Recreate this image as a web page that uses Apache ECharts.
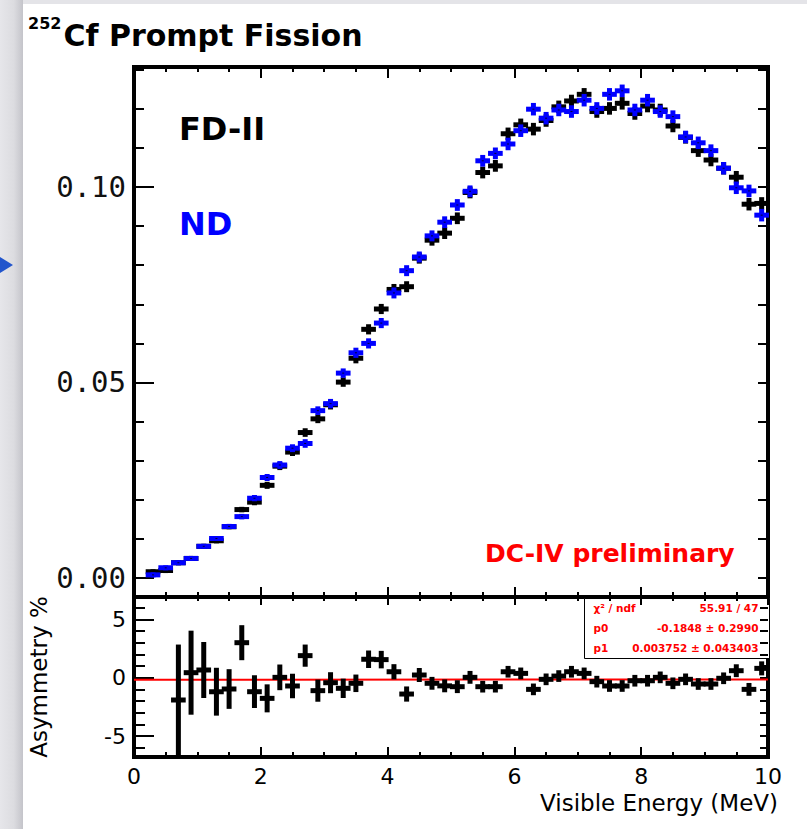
<!DOCTYPE html>
<html>
<head>
<meta charset="utf-8">
<script src="https://cdn.jsdelivr.net/npm/echarts@6/dist/echarts.min.js"></script>
<style>
html,body{margin:0;padding:0;background:#e4e4e8;}
#chart{width:807px;height:829px;}
</style>
</head>
<body>
<div id="chart"></div>
<script>
// ---------------- data ----------------
const energies = [0.3,0.5,0.7,0.9,1.1,1.3,1.5,1.7,1.9,2.1,2.3,2.5,2.7,2.9,3.1,3.3,3.5,3.7,3.9,4.1,4.3,4.5,4.7,4.9,
  5.1,5.3,5.5,5.7,5.9,6.1,6.3,6.5,6.7,6.9,7.1,7.3,7.5,7.7,7.9,8.1,8.3,8.5,8.7,8.9,9.1,9.3,9.5,9.7,9.9];
const fdValues = [0.0016,0.0019,0.0039,0.0050,0.0081,0.0095,0.0131,0.0175,0.0194,0.0237,0.0286,0.0322,0.0372,0.0407,0.0443,0.0501,0.0562,0.0636,0.0688,0.0738,0.0745,0.0818,0.0864,0.0882,
  0.0920,0.0986,0.1037,0.1054,0.1136,0.1159,0.1148,0.1170,0.1205,0.1220,0.1237,0.1193,0.1201,0.1214,0.1188,0.1207,0.1197,0.1156,0.1127,0.1093,0.1069,0.1048,0.1025,0.0956,0.0958];
const ndValues = [0.0008,0.0026,0.0039,0.0050,0.0081,0.0101,0.0132,0.0157,0.0204,0.0257,0.0289,0.0332,0.0344,0.0428,0.0446,0.0524,0.0576,0.0600,0.0652,0.0729,0.0786,0.0821,0.0875,0.0910,
  0.0954,0.0989,0.1067,0.1086,0.1110,0.1144,0.1199,0.1176,0.1197,0.1193,0.1222,0.1201,0.1237,0.1246,0.1197,0.1222,0.1193,0.1180,0.1128,0.1113,0.1093,0.1048,0.0998,0.0990,0.0928];
const topErrors = [0.0003,0.0003,0.0003,0.0004,0.0004,0.0005,0.0006,0.0007,0.0008,0.0009,0.0010,0.0010,0.0011,0.0011,0.0012,0.0012,0.0013,0.0013,0.0013,0.0014,0.0014,0.0014,0.0014,0.0015,
  0.0015,0.0015,0.0015,0.0015,0.0016,0.0016,0.0016,0.0016,0.0016,0.0016,0.0016,0.0016,0.0016,0.0016,0.0016,0.0016,0.0016,0.0016,0.0016,0.0016,0.0016,0.0016,0.0016,0.0016,0.0016];

const asymEnergies = [0.7,0.9,1.1,1.3,1.5,1.7,1.9,2.1,2.3,2.5,2.7,2.9,3.1,3.3,3.5,3.7,3.9,4.1,4.3,4.5,4.7,4.9,
  5.1,5.3,5.5,5.7,5.9,6.1,6.3,6.5,6.7,6.9,7.1,7.3,7.5,7.7,7.9,8.1,8.3,8.5,8.7,8.9,9.1,9.3,9.5,9.7,9.9];
const asymValues = [-1.91,0.43,0.66,-1.2,-0.97,3.0,-1.2,-1.77,0.03,-0.71,1.89,-1.11,-0.43,-0.91,-0.48,1.58,1.55,0.51,-1.4,0.23,-0.48,-0.7,
  -0.77,0.03,-0.77,-0.77,0.51,0.37,-1.0,-0.14,0.14,0.51,0.37,-0.34,-0.71,-0.71,-0.26,-0.26,0.03,-0.48,-0.14,-0.54,-0.54,-0.05,0.6,-1.0,0.8];
const asymErrors = [4.75,3.6,2.4,2.05,1.7,1.5,1.4,1.2,1.1,1.05,0.95,0.95,0.9,0.83,0.75,0.75,0.75,0.65,0.65,0.6,0.55,0.55,
  0.55,0.55,0.5,0.5,0.5,0.5,0.5,0.5,0.5,0.5,0.5,0.5,0.5,0.5,0.5,0.5,0.5,0.5,0.5,0.5,0.5,0.5,0.55,0.55,0.6];

const fitP0 = -0.1848, fitP1 = 0.003752;
const fitStats = [["χ² / ndf","55.91 / 47"],["p0","-0.1848 ± 0.2990"],["p1","0.003752 ± 0.043403"]];

const xMajorTicks = [0,2,4,6,8,10];
const xTickLabels = ["0","2","4","6","8","10"];
const xMinorTicks = [0.5,1,1.5,2.5,3,3.5,4.5,5,5.5,6.5,7,7.5,8.5,9,9.5];
const topYTicks = [0,0.05,0.10];
const topYLabels = ["0.00","0.05","0.10"];
const topYMinor = [0.01,0.02,0.03,0.04,0.06,0.07,0.08,0.09,0.11,0.12,0.13];
const topYAll = [0,0.01,0.02,0.03,0.04,0.05,0.06,0.07,0.08,0.09,0.10,0.11,0.12,0.13];
const asymTicks = [-5,0,5];
const asymLabels = ["-5","0","5"];
const asymMinor = [-6,-4,-3,-2,-1,1,2,3,4,6];
const asymAll = [-6,-5,-4,-3,-2,-1,0,1,2,3,4,5,6];

// ---------------- chart ----------------
const chart = echarts.init(document.getElementById('chart'), null, {renderer:'svg'});
const FONT = 'DejaVu Sans';
const halfBin = 0.1;

function crossRenderer(color, hThick, vWidth, dotColor){
  return function(params, api){
    const e = api.value(0), v = api.value(1), err = api.value(2);
    const pL = api.coord([e - halfBin, v]);
    const pR = api.coord([e + halfBin, v]);
    const pT = api.coord([e, v + err]);
    const pB = api.coord([e, v - err]);
    const h = Math.max(pB[1] - pT[1], hThick);
    const children = [
      {type:'rect', shape:{x:pL[0]-1, y:pL[1]-hThick/2, width:pR[0]-pL[0]+2, height:hThick}, style:{fill:color}},
      {type:'rect', shape:{x:pT[0]-vWidth/2, y:(pT[1]+pB[1])/2 - h/2, width:vWidth, height:h}, style:{fill:color}}
    ];
    if (dotColor) children.push({type:'rect', shape:{x:pL[0]+(pR[0]-pL[0])/2-1, y:pL[1]-0.5, width:2, height:1}, style:{fill:dotColor}});
    return {type:'group', children};
  };
}

function tickAxis(base, vals, len, extra){
  return Object.assign({
    type:'value', axisLine:{show:false, onZero:false}, splitLine:{show:false},
    axisLabel:{show:false},
    axisTick:{show:true, inside:true, length:len, customValues:vals, lineStyle:{color:'#000', width:2}}
  }, base, extra||{});
}

const xr = {min:0, max:10};
const yTop = {min:-0.00486, max:0.13069};
const yBot = {min:-6.795, max:6.915};

const option = {
  backgroundColor:'#e4e4e8',
  animation:false,
  title:{
    left:28, top:15, padding:0,
    text:'{sup|252}{main|Cf Prompt Fission}',
    textStyle:{rich:{
      sup:{fontFamily:FONT, fontWeight:'bold', fontSize:16, color:'#000', lineHeight:18, verticalAlign:'top', padding:[0,2,0,0]},
      main:{fontFamily:FONT, fontWeight:'bold', fontSize:30, color:'#000', lineHeight:40}
    }}
  },
  grid:[
    {left:134, top:67, width:634, height:530, show:true, borderColor:'#000', borderWidth:4, backgroundColor:'#fff'},
    {left:134, top:597, width:634, height:160, show:true, borderColor:'#000', borderWidth:4, backgroundColor:'#fff'}
  ],
  xAxis:[
    tickAxis(Object.assign({gridIndex:0, position:'bottom'}, xr), xMajorTicks, 10),
    tickAxis(Object.assign({gridIndex:0, position:'bottom'}, xr), xMinorTicks, 5),
    tickAxis(Object.assign({gridIndex:0, position:'top'}, xr), xMajorTicks, 11),
    tickAxis(Object.assign({gridIndex:0, position:'top'}, xr), xMinorTicks, 5),
    tickAxis(Object.assign({gridIndex:1, position:'bottom'}, xr), xMajorTicks, 10, {
      axisLabel:{show:true, customValues:xMajorTicks, margin:8, fontFamily:FONT, fontSize:22, color:'#000',
        formatter:(v)=>xTickLabels[xMajorTicks.findIndex(t=>Math.abs(t-v)<1e-9)]},
      name:'Visible Energy (MeV)', nameLocation:'end', nameGap:10,
      nameTextStyle:{fontFamily:FONT, fontSize:23, color:'#000', align:'right', verticalAlign:'top', padding:[34,0,0,0]}
    }),
    tickAxis(Object.assign({gridIndex:1, position:'bottom'}, xr), xMinorTicks, 5),
    tickAxis(Object.assign({gridIndex:1, position:'top'}, xr), xMajorTicks, 8),
    tickAxis(Object.assign({gridIndex:1, position:'top'}, xr), xMinorTicks, 4)
  ],
  yAxis:[
    tickAxis(Object.assign({gridIndex:0, position:'left'}, yTop), topYTicks, 20, {
      axisLabel:{show:true, customValues:topYTicks, margin:8, fontFamily:'DejaVu Sans Mono', fontSize:29, color:'#111',
        formatter:(v)=>topYLabels[topYTicks.findIndex(t=>Math.abs(t-v)<1e-9)]}
    }),
    tickAxis(Object.assign({gridIndex:0, position:'left'}, yTop), topYMinor, 10),
    tickAxis(Object.assign({gridIndex:0, position:'right'}, yTop), topYAll, 10),
    tickAxis(Object.assign({gridIndex:1, position:'left'}, yBot), asymTicks, 20, {
      axisLabel:{show:true, customValues:asymTicks, margin:8, fontFamily:FONT, fontSize:22, color:'#000',
        formatter:(v)=>asymLabels[asymTicks.findIndex(t=>Math.abs(t-v)<1e-9)]},
      name:'Asymmetry %', nameLocation:'middle', nameGap:84, nameRotate:90,
      nameTextStyle:{fontFamily:FONT, fontSize:23, color:'#000'}
    }),
    tickAxis(Object.assign({gridIndex:1, position:'left'}, yBot), asymMinor, 11),
    tickAxis(Object.assign({gridIndex:1, position:'right'}, yBot), asymAll, 8)
  ],
  series:[
    {type:'custom', name:'FD-II', xAxisIndex:0, yAxisIndex:0, coordinateSystem:'cartesian2d',
      renderItem:crossRenderer('#000', 5, 5, null),
      encode:{x:0, y:1},
      data:energies.map((e,i)=>[e, fdValues[i], topErrors[i]])},
    {type:'custom', name:'ND', xAxisIndex:0, yAxisIndex:0, coordinateSystem:'cartesian2d',
      renderItem:crossRenderer('#0000ff', 5, 5, '#000033'),
      encode:{x:0, y:1},
      data:energies.map((e,i)=>[e, ndValues[i], topErrors[i]])},
    {type:'line', name:'fit', xAxisIndex:4, yAxisIndex:3, symbol:'none', silent:true,
      lineStyle:{color:'#ff0000', width:2},
      data:[[0, fitP0], [10, fitP0 + 10*fitP1]], z:3},
    {type:'custom', name:'Asymmetry', xAxisIndex:4, yAxisIndex:3, coordinateSystem:'cartesian2d',
      renderItem:crossRenderer('#000', 5, 5, null),
      encode:{x:0, y:1},
      data:asymEnergies.map((e,i)=>[e, asymValues[i], asymErrors[i]]), z:4}
  ],
  graphic:[
    {type:'rect', z:-10, shape:{x:23, y:4, width:784, height:825}, style:{fill:'#ffffff'}},
    {type:'rect', z:-10, shape:{x:0, y:0, width:23, height:829},
      style:{fill:new echarts.graphic.LinearGradient(0,0,1,0,[{offset:0,color:'#e6e6ea'},{offset:0.6,color:'#dcdce0'},{offset:1,color:'#c4c4ca'}])}},
    {type:'polygon', z:-5, shape:{points:[[0,257],[13,265],[0,273]]}, style:{fill:'#2255cc'}},
    {type:'text', left:179, top:113, style:{text:'FD-II', fontFamily:FONT, fontWeight:'bold', fontSize:32, fill:'#000'}},
    {type:'text', left:179, top:208, style:{text:'ND', fontFamily:FONT, fontWeight:'bold', fontSize:32, fill:'#0000ff'}},
    {type:'text', left:485, top:541, style:{text:'DC-IV preliminary', fontFamily:FONT, fontWeight:'bold', fontSize:25, fill:'#ff0000'}},
    {type:'group', left:584, top:598, children:[
      {type:'rect', shape:{x:0, y:0, width:185, height:60}, style:{fill:'#fff', stroke:'#000', lineWidth:1}},
      ...fitStats.map((row,i)=>({type:'text', x:9, y:9+i*20, style:{text:row[0], fontFamily:FONT, fontWeight:'bold', fontSize:10.5, fill:'#ff0000', textVerticalAlign:'middle'}})),
      ...fitStats.map((row,i)=>({type:'text', x:174, y:9+i*20, style:{text:row[1], fontFamily:FONT, fontWeight:'bold', fontSize:10.5, fill:'#ff0000', textAlign:'right', textVerticalAlign:'middle'}}))
    ]}
  ]
};
chart.setOption(option);
</script>
</body>
</html>
